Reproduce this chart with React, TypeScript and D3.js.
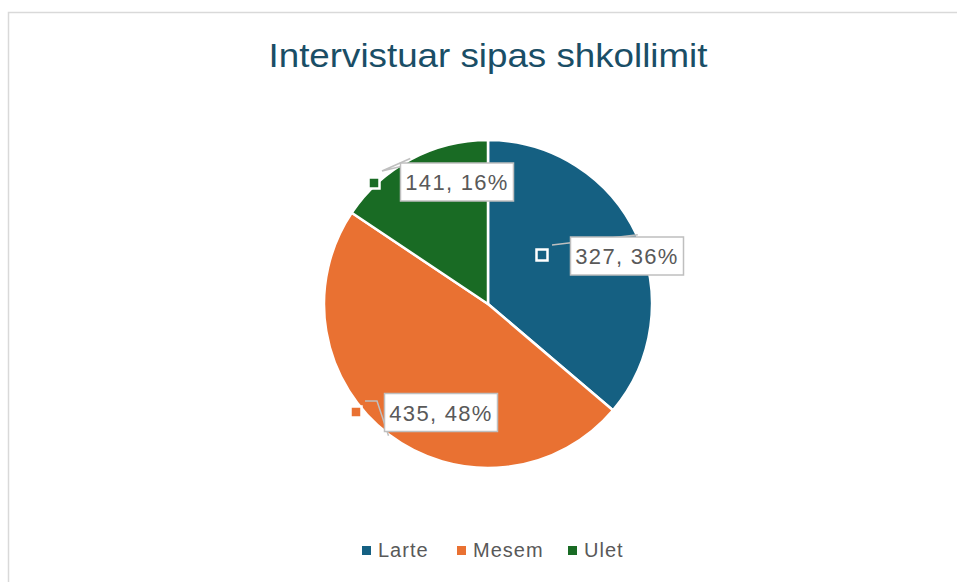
import React from "react";
import * as d3 from "d3";

const categories = ["Larte", "Mesem", "Ulet"];
const values = [327, 435, 141];
const percents = ["36%", "48%", "16%"];
const colors = ["#156082", "#E97132", "#196B24"];
const title = "Intervistuar sipas shkollimit";

// label layout offsets relative to pie centre (px)
const labelBox = [
  { bx: 139, by: -48, kx: 54, ky: -49, bend: [[64, -59]] },
  { bx: -47, by: 108.5, kx: -132, ky: 108, bend: [[-111, 97], [-123, 97]] },
  { bx: -31, by: -122, kx: -114, ky: -121, bend: [[-106, -133], [-85, -138]] },
];

export default function App() {
  const W = 957, H = 582;
  const cx = 488, cy = 304, r = 164;
  const pie = d3.pie<number>().sort(null).value((d) => d)(values);
  const arc = d3.arc<d3.PieArcDatum<number>>().innerRadius(0).outerRadius(r);
  const font = "'Liberation Sans', Arial, sans-serif";

  const legendX = [362, 457, 568];

  return (
    <svg width={W} height={H} style={{ position: "absolute", left: 0, top: 0 }}>
      <rect x={8.5} y={12.5} width={1200} height={1200} fill="#fff" stroke="#d9d9d9" strokeWidth={1.5} />
      <text x={488} y={67} textAnchor="middle" fontFamily={font} fontSize={33} fill="#1A4E66"
        textLength={439} lengthAdjust="spacingAndGlyphs">{title}</text>
      <g transform={`translate(${cx},${cy})`}>
        {pie.map((p, i) => (
          <path key={i} d={arc(p) || ""} fill={colors[i]} stroke="#fff" strokeWidth={2.5} strokeLinejoin="round" />
        ))}
        {pie.map((p, i) => {
          const mid = (p.startAngle + p.endAngle) / 2;
          const sx = Math.sin(mid) * (r + 1);
          const sy = -Math.cos(mid) * (r + 1);
          const L = labelBox[i];
          const pts = [[sx, sy], ...L.bend];
          const line = d3.line()(pts as [number, number][]) || "";
          return <path key={"l" + i} d={line} fill="none" stroke="#bfbfbf" strokeWidth={1.5} />;
        })}
        {pie.map((p, i) => {
          const L = labelBox[i];
          const bw = 113, bh = 38;
          return (
            <g key={"b" + i}>
              <rect x={L.kx - 5.5} y={L.ky - 5.5} width={11} height={11} fill={colors[i]} stroke="#fff" strokeWidth={2.5} />
              <rect x={L.bx - bw / 2} y={L.by - bh / 2} width={bw} height={bh} fill="#fff" stroke="#bfbfbf" strokeWidth={1.5} />
              <text x={L.bx} y={L.by + 8} textAnchor="middle" fontFamily={font} fontSize={22} fill="#595959" letterSpacing={1.3}>
                {`${values[i]}, ${percents[i]}`}
              </text>
            </g>
          );
        })}
      </g>
      {categories.map((c, i) => (
        <g key={"lg" + i}>
          <rect x={legendX[i]} y={546} width={9} height={9} fill={colors[i]} />
          <text x={legendX[i] + 16} y={557} fontFamily={font} fontSize={20} fill="#595959" letterSpacing={1}>{c}</text>
        </g>
      ))}
    </svg>
  );
}
